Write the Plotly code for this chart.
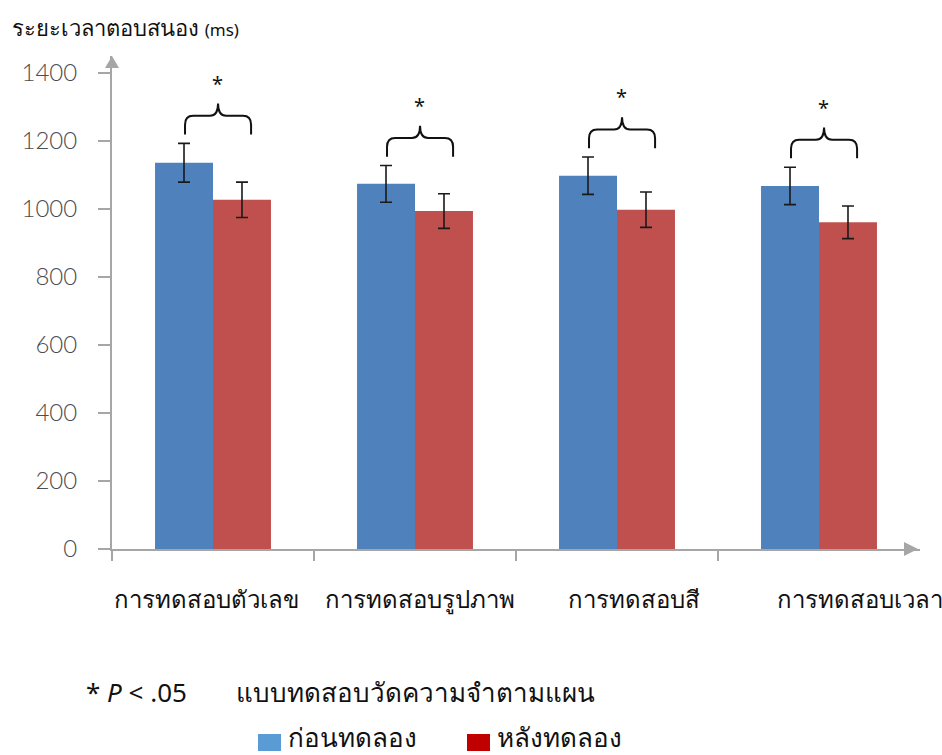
import plotly.graph_objects as go

# Reaction time (ms) per test, before and after training
categories = ["การทดสอบตัวเลข", "การทดสอบรูปภาพ", "การทดสอบสี", "การทดสอบเวลา"]
before = [1136, 1074, 1098, 1068]
before_err = [57, 54, 55, 55]
after = [1027, 994, 998, 961]
after_err = [52, 51, 52, 48]
y_ticks = [0, 200, 400, 600, 800, 1000, 1200, 1400]
series_names = ["ก่อนทดลอง", "หลังทดลอง"]

W, H = 942, 755
PL, PR, PT, PB = 112, 920, 56, 549  # plot area in pixels


def px(x):
    return (x - PL) / (PR - PL)


def py(y):
    return (PB - y) / (PB - PT)


FONT = "Tahoma, 'Noto Sans', 'DejaVu Sans', sans-serif"
AXIS_GRAY = "#A6A6A6"
BLUE, RED = "#4F81BD", "#C0504D"

xs = list(range(len(categories)))

fig = go.Figure()
fig.add_trace(go.Bar(
    x=xs, y=before, name=series_names[0], marker=dict(color=BLUE, line=dict(width=0)),
    error_y=dict(type="data", array=before_err, color="#1a1a1a", thickness=1.6, width=6),
))
fig.add_trace(go.Bar(
    x=xs, y=after, name=series_names[1], marker=dict(color=RED, line=dict(width=0)),
    error_y=dict(type="data", array=after_err, color="#1a1a1a", thickness=1.6, width=6),
))

shapes = []
annotations = []

# significance braces above each pair
bar_w = 0.287
for i in xs:
    xl = i - bar_w / 2 + 0.005
    xr = i + bar_w / 2 + 0.045
    xm = (xl + xr) / 2
    yb = before[i] + before_err[i] + 26
    yh = yb + 55
    yp = yh + 36
    rx, ry = 0.04, 26
    path = (f"M {xl},{yb} L {xl},{yh - ry} Q {xl},{yh} {xl + rx},{yh} "
            f"L {xm - rx},{yh} Q {xm},{yh} {xm},{yp} Q {xm},{yh} {xm + rx},{yh} "
            f"L {xr - rx},{yh} Q {xr},{yh} {xr},{yh - ry} L {xr},{yb}")
    shapes.append(dict(type="path", xref="x", yref="y", path=path,
                       line=dict(color="#111111", width=2)))
    annotations.append(dict(x=xm - 0.005, y=yp + 60, xref="x", yref="y", text="*",
                            showarrow=False, font=dict(family=FONT, size=20, color="#111111"),
                            yanchor="middle"))

# arrowheads on axes
hw = 7 / (PR - PL)
hh = 7 / (PB - PT)
shapes.append(dict(type="path", xref="paper", yref="paper",
                   path=f"M {-hw},{py(68)} L {hw},{py(68)} L 0,{py(56)} Z",
                   fillcolor=AXIS_GRAY, line=dict(width=0)))
shapes.append(dict(type="path", xref="paper", yref="paper",
                   path=f"M {px(904)},{hh} L {px(904)},{-hh} L {px(918)},0 Z",
                   fillcolor=AXIS_GRAY, line=dict(width=0)))

# category labels
label_centers = [206, 420, 634, 860]
for cat, cx in zip(categories, label_centers):
    annotations.append(dict(x=px(cx), y=py(598), xref="paper", yref="paper", text=cat,
                            showarrow=False, font=dict(family=FONT, size=24, color="#111111"),
                            xanchor="center", yanchor="middle"))

# y-axis title
annotations.append(dict(x=px(10), y=py(27), xref="paper", yref="paper",
                        text="ระยะเวลาตอบสนอง <span style='font-size:17px'>(ms)</span>",
                        showarrow=False, font=dict(family=FONT, size=22, color="#111111"),
                        xanchor="left", yanchor="middle"))

# footnote and legend
annotations.append(dict(x=px(84), y=py(692), xref="paper", yref="paper",
                        text="* <i>P</i> < .05", showarrow=False,
                        font=dict(family=FONT, size=26, color="#111111"),
                        xanchor="left", yanchor="middle"))
annotations.append(dict(x=px(234), y=py(692), xref="paper", yref="paper",
                        text="แบบทดสอบวัดความจำตามแผน", showarrow=False,
                        font=dict(family=FONT, size=26, color="#111111"),
                        xanchor="left", yanchor="middle"))
legend_items = [(258, "#5B9BD5", series_names[0]), (467, "#C00000", series_names[1])]
for lx, col, name in legend_items:
    shapes.append(dict(type="rect", xref="paper", yref="paper",
                       x0=px(lx), x1=px(lx + 23), y0=py(751), y1=py(734),
                       fillcolor=col, line=dict(width=0)))
    annotations.append(dict(x=px(lx + 28), y=py(737), xref="paper", yref="paper",
                            text=name, showarrow=False,
                            font=dict(family=FONT, size=26, color="#111111"),
                            xanchor="left", yanchor="middle"))

fig.update_layout(
    width=W, height=H,
    margin=dict(l=PL, r=W - PR, t=PT, b=H - PB),
    paper_bgcolor="white", plot_bgcolor="white",
    barmode="group", bargap=0.426, bargroupgap=0,
    showlegend=False,
    shapes=shapes, annotations=annotations,
    xaxis=dict(range=[-0.5, 3.5], tickvals=[-0.5, 0.5, 1.5, 2.5], showticklabels=False,
               ticks="outside", ticklen=10, tickwidth=1.5, tickcolor=AXIS_GRAY,
               showline=True, linecolor=AXIS_GRAY, linewidth=2, showgrid=False, zeroline=False),
    yaxis=dict(range=[0, 1450], tickvals=y_ticks, ticks="outside", ticklen=12, tickwidth=1.5,
               tickcolor=AXIS_GRAY, showline=True, linecolor=AXIS_GRAY, linewidth=2,
               showgrid=False, zeroline=False, ticklabelstandoff=16,
               tickfont=dict(family="Lato, 'Open Sans', sans-serif", size=24, weight=300,
                             color="#4d4d4d")),
)

fig.write_html("out.html")
